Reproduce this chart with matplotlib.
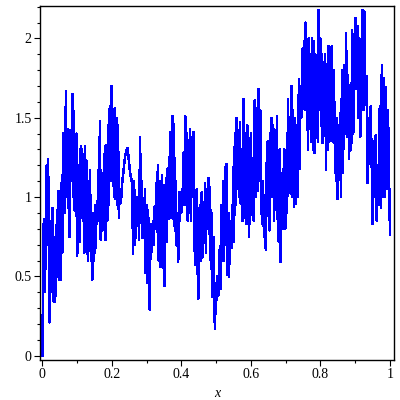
import numpy as np
import matplotlib
matplotlib.use('Agg')
import matplotlib.pyplot as plt
from matplotlib.ticker import MultipleLocator, FuncFormatter

# x range covered by each run of readings, and the readings themselves
seg_bounds = [(0.0, 0.137), (0.137, 0.227), (0.227, 0.261), (0.261, 0.281),
              (0.281, 0.425), (0.425, 0.568), (0.568, 0.712), (0.712, 0.856),
              (0.856, 1.0)]

y_seg1 = [0.0, 0.5, 0.86, 0.4, 0.86, 0.55, 1.2, 0.7, 1.24, 0.75, 0.21, 0.85, 0.4, 0.8,
          0.93, 0.55, 0.34, 0.75, 0.34, 0.82, 0.5, 0.92, 0.58, 1.04, 0.48, 0.96, 0.48,
          1.09, 0.65, 1.4, 0.9, 1.4, 0.9, 1.67, 1.0, 1.43, 0.93, 1.3, 0.75, 1.42, 1.1,
          1.3, 1.65, 1.0, 1.54, 0.92, 1.39, 0.88, 1.4, 0.63, 1.2, 0.8, 1.02, 0.72, 1.32,
          1.0, 1.3, 0.85, 1.06, 0.65, 1.32, 0.75, 1.23, 0.83, 0.6, 1.1, 0.75]
y_seg2 = [1.17, 0.6, 0.85, 0.48, 0.9, 0.6, 0.95, 0.68, 0.95, 0.85, 1.17, 0.9, 1.48, 0.73,
          1.15, 0.79, 1.1, 0.85, 1.32, 0.73, 1.33, 0.85, 1.45, 0.95, 1.57, 1.1, 1.7, 1.2,
          1.4, 1.0, 1.56, 0.99, 1.5, 0.95, 1.45, 0.87, 1.05, 0.96]
y_seg3 = [1.0, 1.1, 1.15, 1.21, 1.26, 1.28, 1.31, 1.27, 1.21, 1.15, 1.12, 1.09]
y_seg4 = [0.64, 1.1, 0.7, 1.0, 0.85, 1.0, 0.73]
y_seg5 = [1.38, 0.85, 1.1, 0.74, 0.9, 0.78, 1.05, 0.52, 0.95, 0.46, 0.92, 0.5, 0.29, 0.83,
          0.65, 0.75, 0.85, 0.7, 0.94, 0.8, 1.09, 0.78, 1.2, 0.6, 1.1, 0.56, 0.58, 1.14,
          1.0, 0.61, 0.44, 0.9, 1.12, 0.72, 1.18, 0.86, 1.25, 0.98, 1.41, 0.87, 1.51,
          0.86, 1.46, 0.79, 1.1, 0.7, 0.9, 0.59, 0.65, 1.03, 1.03, 0.9, 1.05, 0.95, 1.28,
          0.95, 1.51, 1.1, 1.4, 0.85, 1.36, 0.9]
y_seg6 = [1.43, 0.85, 1.38, 1.0, 1.41, 0.78, 0.57, 1.0, 1.05, 0.55, 0.36, 0.9, 0.95, 0.6,
          1.03, 0.62, 0.8, 0.73, 1.09, 0.65, 1.05, 0.8, 1.12, 0.77, 1.06, 0.55, 0.9, 0.37,
          0.75, 0.33, 0.17, 0.46, 0.35, 0.5, 0.38, 0.6, 0.69, 0.42, 0.95, 0.6, 1.1, 0.6,
          1.19, 0.7, 1.21, 0.51, 0.9, 0.5, 0.85, 0.72, 0.68, 0.75, 1.19, 0.72, 1.4, 0.95,
          1.5, 1.05, 1.28, 1.0]
y_seg7 = [1.47, 0.96, 1.3, 0.85, 1.62, 0.87, 1.4, 0.83, 1.45, 1.0, 0.75, 1.27, 1.4, 0.89,
          1.22, 0.85, 1.61, 1.0, 1.56, 1.04, 1.68, 1.1, 1.55, 1.0, 0.83, 1.1, 0.75, 0.95,
          0.67, 1.21, 1.35, 0.9, 0.79, 1.35, 1.5, 1.0, 1.45, 0.85, 1.4, 1.0, 1.51, 0.8,
          0.72, 1.3, 0.59, 1.15, 0.8, 1.1, 1.3, 0.8, 1.2, 0.9, 1.62, 1.1]
y_seg8 = [1.5, 1.02, 1.7, 1.0, 1.55, 0.94, 1.5, 0.96, 1.45, 1.0, 1.25, 1.74, 1.18, 1.7,
          1.5, 1.93, 1.6, 1.98, 1.55, 2.1, 1.6, 1.85, 1.3, 2.0, 1.43, 1.9, 1.35, 2.0, 1.3,
          1.98, 1.28, 1.9, 1.5, 1.85, 1.35, 2.18, 1.55, 2.0, 1.45, 1.9, 1.34, 1.85, 1.4,
          1.9, 1.17, 1.75, 1.3, 1.95, 1.35, 1.7, 1.4, 1.95, 1.35, 1.8, 1.34, 1.6, 1.1,
          1.5, 0.99, 1.45, 1.15]
y_seg9 = [1.53, 1.0, 1.8, 1.15, 1.83, 1.4, 2.03, 1.38, 1.77, 1.24, 1.7, 1.3, 2.05, 1.4,
          1.9, 2.13, 1.68, 2.08, 1.5, 2.0, 1.38, 1.85, 2.18, 1.55, 2.17, 1.58, 1.76, 1.09,
          1.5, 1.21, 1.57, 1.25, 0.83, 1.35, 1.0, 1.39, 0.85, 1.2, 0.95, 1.57, 0.93, 1.83,
          1.0, 1.75, 1.0, 1.69, 1.05, 1.55, 0.76]

segments = [y_seg1, y_seg2, y_seg3, y_seg4, y_seg5, y_seg6, y_seg7, y_seg8, y_seg9]

xs, ys = [], []
for (x0, x1), seg in zip(seg_bounds, segments):
    xx = np.linspace(x0, x1, len(seg), endpoint=False)
    xs.extend(xx)
    ys.extend(seg)
xs[-1] = 1.0

plt.rcParams['font.family'] = ['Liberation Serif', 'DejaVu Serif']

fig = plt.figure(figsize=(4, 4), dpi=100)
ax = fig.add_axes([0.1, 0.1, 0.885, 0.885])
ax.plot(xs, ys, color='#0000ff', lw=1.1, antialiased=False)

ax.set_xlim(-0.0069, 1.0115)
ax.set_ylim(-0.027, 2.204)

fmt = FuncFormatter(lambda v, p: ('%g' % round(v, 2)))
ax.xaxis.set_major_locator(MultipleLocator(0.2))
ax.xaxis.set_minor_locator(MultipleLocator(0.1))
ax.yaxis.set_major_locator(MultipleLocator(0.5))
ax.yaxis.set_minor_locator(MultipleLocator(0.1))
ax.xaxis.set_major_formatter(fmt)
ax.yaxis.set_major_formatter(fmt)
ax.tick_params(which='major', direction='out', length=4, width=0.8, labelsize=10,
               top=False, right=False, pad=2)
ax.tick_params(which='minor', direction='out', length=2.5, width=0.8,
               top=False, right=False)
for s in ax.spines.values():
    s.set_linewidth(1.0)

ax.set_xlabel('x', fontstyle='italic', fontsize=10, labelpad=4)

fig.savefig('out.png', dpi=100)
